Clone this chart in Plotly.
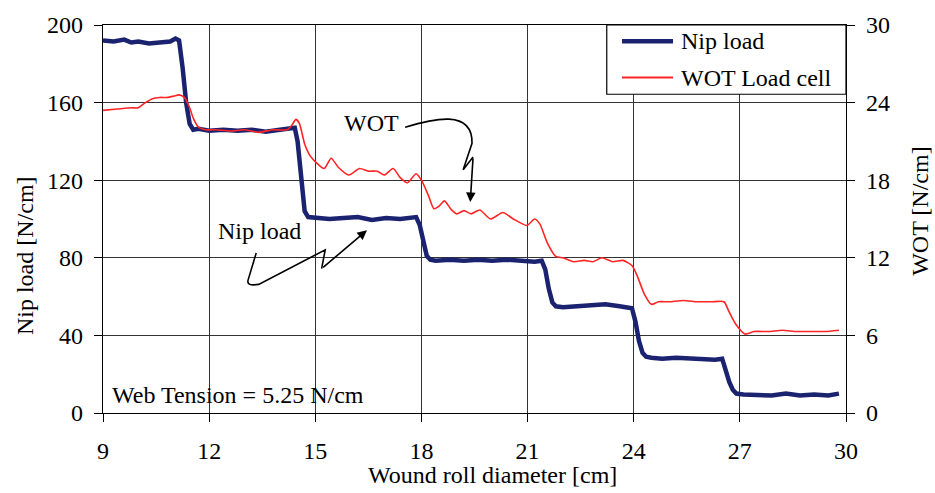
import plotly.graph_objects as go

# Nip load measured on the winder [N/cm] vs wound roll diameter [cm]
nip_diameter = [9.0, 9.3, 9.6, 9.8, 10.0, 10.3, 10.6, 10.9, 11.05, 11.15,
                11.25, 11.35, 11.45, 11.55, 11.7, 12.0, 12.4, 12.8, 13.2, 13.6,
                14.0, 14.3, 14.42, 14.5, 14.6, 14.7, 14.8, 15.0, 15.4, 15.8,
                16.2, 16.6, 17.0, 17.4, 17.85, 17.95, 18.05, 18.15, 18.25, 18.4,
                18.8, 19.2, 19.6, 20.0, 20.4, 20.8, 21.2, 21.4, 21.5, 21.6,
                21.7, 21.8, 22.0, 22.4, 22.8, 23.2, 23.6, 23.95, 24.05, 24.15,
                24.25, 24.35, 24.5, 24.8, 25.2, 25.6, 26.0, 26.3, 26.5, 26.6,
                26.7, 26.8, 26.9, 27.1, 27.5, 27.9, 28.3, 28.7, 29.1, 29.5, 29.8]
nip_load = [192, 191.5, 192.5, 191, 191.5, 190.5, 191, 191.5, 193, 192,
            178, 160, 149, 146, 146.5, 145.5, 146, 145.5, 146, 145,
            146, 146.5, 147, 140, 120, 104, 101, 100.5, 100, 100.5,
            101, 99.5, 100.5, 100, 101, 97, 88, 81, 79, 78.5,
            79, 78.5, 79, 78.5, 79, 78.5, 78, 78.5, 74, 64,
            57, 55, 54.5, 55, 55.5, 56, 55, 54, 47, 37,
            31, 29, 28.5, 28, 28.5, 28, 27.5, 27.5, 28, 22,
            16, 12, 10, 9.5, 9.5, 9, 10, 9, 9.5, 9, 10]

# WOT from the load cell [N/cm]
wot_diameter = [9.0, 9.4, 9.8, 10.0, 10.2, 10.4, 10.6, 10.8, 11.0, 11.15,
                11.3, 11.45, 11.55, 11.7, 11.9, 12.2, 12.6, 13.0, 13.4, 13.8,
                14.2, 14.35, 14.45, 14.55, 14.7, 14.85, 15.05, 15.25, 15.45, 15.65,
                15.95, 16.25, 16.5, 16.75, 16.95, 17.2, 17.4, 17.6, 17.85, 18.0,
                18.2, 18.35, 18.5, 18.65, 18.85, 19.0, 19.2, 19.4, 19.65, 19.95,
                20.3, 20.6, 20.98, 21.2, 21.35, 21.55, 21.8, 22.0, 22.3, 22.6,
                22.85, 23.1, 23.4, 23.7, 23.95, 24.1, 24.3, 24.5, 24.7, 25.0,
                25.4, 25.8, 26.2, 26.55, 26.7, 26.9, 27.15, 27.4, 27.8, 28.2,
                28.6, 29.0, 29.4, 29.8]
wot_load = [23.4, 23.5, 23.6, 23.6, 24.0, 24.3, 24.4, 24.4, 24.5, 24.6,
            24.4, 23.6, 22.8, 22.1, 21.9, 21.9, 21.8, 21.9, 21.7, 21.9,
            21.9, 22.3, 22.7, 22.4, 20.8, 19.9, 19.3, 18.9, 19.7, 19.0,
            18.4, 18.9, 18.7, 18.7, 18.4, 18.9, 18.2, 17.8, 18.5, 18.0,
            16.8, 15.8, 16.0, 16.4, 15.7, 15.4, 15.65, 15.4, 15.7, 15.0,
            15.5, 15.0, 14.5, 15.0, 14.6, 13.2, 12.1, 12.0, 11.7, 11.8,
            11.7, 12.0, 11.7, 11.8, 11.4, 10.6, 9.2, 8.4, 8.6, 8.6,
            8.7, 8.6, 8.6, 8.6, 7.8, 6.8, 6.1, 6.3, 6.3, 6.4,
            6.3, 6.3, 6.3, 6.4]

x_ticks = [9, 12, 15, 18, 21, 24, 27, 30]
nip_ticks = [0, 40, 80, 120, 160, 200]
wot_ticks = [0, 6, 12, 18, 24, 30]

NAVY = "#1b2370"
RED = "#ff2424"
FONT = "Liberation Serif"

fig = go.Figure()
fig.add_trace(go.Scatter(x=nip_diameter, y=nip_load, mode="lines",
                         name="Nip load", line=dict(color=NAVY, width=4.5),
                         showlegend=False))
fig.add_trace(go.Scatter(x=wot_diameter, y=wot_load, mode="lines", yaxis="y2",
                         name="WOT Load cell",
                         line=dict(color=RED, width=1.6, shape="spline", smoothing=0.6),
                         showlegend=False))

axis_common = dict(showline=True, linecolor="black", linewidth=1.2,
                   ticks="outside", ticklen=8, tickcolor="black",
                   tickfont=dict(family=FONT, size=24, color="black"),
                   zeroline=False)

fig.update_layout(
    width=935, height=493,
    margin=dict(l=103, r=89, t=17, b=80),
    paper_bgcolor="white", plot_bgcolor="white",
    font=dict(family=FONT, size=24, color="black"),
    xaxis=dict(range=[9, 30], tickvals=x_ticks, mirror=True,
               showgrid=True, gridcolor="#333333", gridwidth=1,
               ticklabelstandoff=8, **axis_common),
    yaxis=dict(range=[0, 200], tickvals=nip_ticks,
               showgrid=True, gridcolor="#333333", gridwidth=1,
               ticklabelstandoff=6, **axis_common),
    yaxis2=dict(range=[0, 30], tickvals=wot_ticks, overlaying="y", side="right",
                showgrid=False, ticklabelstandoff=6, **axis_common),
)

# Axis titles
fig.add_annotation(text="Wound roll diameter [cm]", xref="paper", yref="paper",
                   x=0.5236, y=-0.161, xanchor="center", yanchor="middle",
                   showarrow=False, font=dict(family=FONT, size=24))
fig.add_annotation(text="Nip load [N/cm]", xref="paper", yref="paper",
                   x=-0.105, y=0.407, xanchor="center", yanchor="middle",
                   textangle=-90, showarrow=False, font=dict(family=FONT, size=24))
fig.add_annotation(text="WOT [N/cm]", xref="paper", yref="paper",
                   x=1.0996, y=0.521, xanchor="center", yanchor="middle",
                   textangle=-90, showarrow=False, font=dict(family=FONT, size=24))

# Test condition
fig.add_annotation(text="Web Tension = 5.25 N/cm", xref="paper", yref="paper",
                   x=0.0094, y=0.046, xanchor="left", yanchor="middle",
                   showarrow=False, font=dict(family=FONT, size=24))

# Callout labels with zig-zag arrows
fig.add_annotation(text="WOT", x=16.6, y=149.5, xref="x", yref="y",
                   showarrow=False, font=dict(family=FONT, size=24))
fig.add_shape(type="path", xref="x", yref="y",
              path="M 17.54,147.3 C 18.3,151.5 19.45,157 19.43,139 "
                   "L 19.18,125.4 L 19.46,132.0",
              line=dict(color="black", width=1.6))
fig.add_annotation(x=19.38, y=108.7, ax=19.46, ay=132.0, xref="x", yref="y",
                   axref="x", ayref="y", text="", showarrow=True,
                   arrowhead=2, arrowsize=1.2, arrowwidth=1.6, arrowcolor="black")

fig.add_annotation(text="Nip load", x=13.41, y=94.0, xref="x", yref="y",
                   showarrow=False, font=dict(family=FONT, size=24))
fig.add_shape(type="path", xref="x", yref="y",
              path="M 13.33,82.5 L 13.1,68.5 Q 13.05,65.2 13.4,66.3 "
                   "L 15.28,84.1 L 15.18,74.4",
              line=dict(color="black", width=1.6))
fig.add_annotation(x=16.46, y=94.2, ax=15.18, ay=74.4, xref="x", yref="y",
                   axref="x", ayref="y", text="", showarrow=True,
                   arrowhead=2, arrowsize=1.2, arrowwidth=1.6, arrowcolor="black")

# Legend box
fig.add_shape(type="rect", xref="paper", yref="paper",
              x0=0.678, x1=1.0, y0=0.8215, y1=1.0,
              fillcolor="white", line=dict(color="black", width=1.2), layer="above")
fig.add_shape(type="line", xref="paper", yref="paper",
              x0=0.6985, x1=0.7672, y0=0.9578, y1=0.9578,
              line=dict(color=NAVY, width=4.5), layer="above")
fig.add_shape(type="line", xref="paper", yref="paper",
              x0=0.6985, x1=0.7672, y0=0.8644, y1=0.8644,
              line=dict(color=RED, width=2), layer="above")
fig.add_annotation(text="Nip load", xref="paper", yref="paper",
                   x=0.7752, y=0.9578, xanchor="left", yanchor="middle",
                   showarrow=False, font=dict(family=FONT, size=24))
fig.add_annotation(text="WOT Load cell", xref="paper", yref="paper",
                   x=0.7752, y=0.8644, xanchor="left", yanchor="middle",
                   showarrow=False, font=dict(family=FONT, size=24))

fig.write_html("out.html")
